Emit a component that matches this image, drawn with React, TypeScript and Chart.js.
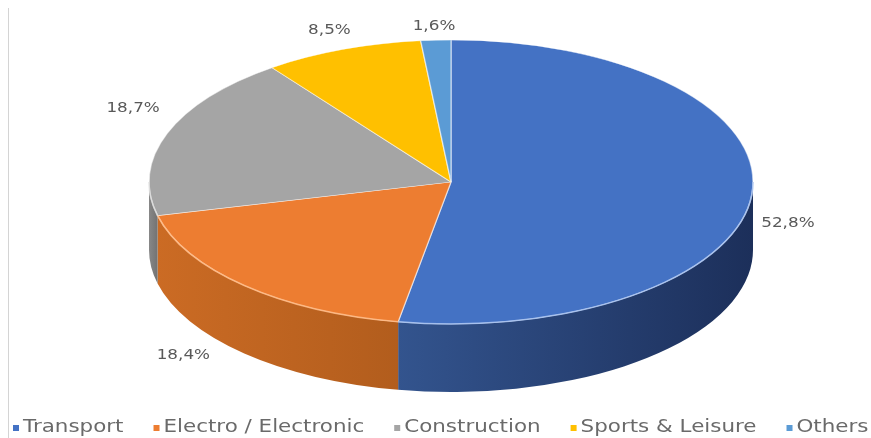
import React, { useEffect, useRef } from "react";
import { Chart, registerables } from "chart.js";

Chart.register(...registerables);

const categories = ["Transport", "Electro / Electronic", "Construction", "Sports & Leisure", "Others"];
const shares = [52.8, 18.4, 18.7, 8.5, 1.6];
const valueLabels = ["52,8%", "18,4%", "18,7%", "8,5%", "1,6%"];
const topColors = ["#4472C4", "#ED7D31", "#A5A5A5", "#FFC000", "#5B9BD5"];
const wallLight = ["#33548e", "#cb6b24", "#8a8a8a", "#c99a10", "#4a7fb0"];
const wallDark = ["#1c2f5a", "#b25d1d", "#707070", "#b08600", "#3a6a98"];
const rimColors = ["rgba(170,195,240,0.9)", "rgba(255,185,130,0.85)", "rgba(220,220,220,0.8)", "rgba(255,225,140,0.8)", "rgba(170,205,240,0.8)"];

// geometry of the projected pie
const CX = 451;
const CY = 182;
const RX = 302;
const RY = 142;
const DEPTH = 68;

function drawStretchedText(ctx: CanvasRenderingContext2D, text: string, x: number, y: number, align: string, font: string, color: string, stretch: number) {
  ctx.save();
  ctx.font = font;
  ctx.fillStyle = color;
  ctx.textBaseline = "middle";
  ctx.textAlign = "left";
  const w = ctx.measureText(text).width * stretch;
  const left = align === "left" ? x : align === "right" ? x - w : x - w / 2;
  ctx.translate(left, y);
  ctx.scale(stretch, 1);
  ctx.fillText(text, 0, 0);
  ctx.restore();
  return w;
}

function frontIntervals(s: number, e: number) {
  const out: [number, number][] = [];
  for (let k = -1; k <= 1; k++) {
    const lo = Math.max(s, 2 * Math.PI * k);
    const hi = Math.min(e, 2 * Math.PI * k + Math.PI);
    if (hi > lo) out.push([lo, hi]);
  }
  return out;
}

const pie3d = {
  id: "pie3d",
  beforeDatasetsDraw(chart: any) {
    const ctx: CanvasRenderingContext2D = chart.ctx;
    const arcs = chart.getDatasetMeta(0).data;
    // side walls
    arcs.forEach((arc: any, i: number) => {
      const p = arc.getProps(["startAngle", "endAngle"], true);
      frontIntervals(p.startAngle, p.endAngle).forEach(([lo, hi]) => {
        const xl = CX + RX * Math.cos(hi);
        const xr = CX + RX * Math.cos(lo);
        const g = ctx.createLinearGradient(Math.min(xl, xr) - 1, 0, Math.max(xl, xr) + 1, 0);
        g.addColorStop(0, wallLight[i]);
        g.addColorStop(1, wallDark[i]);
        ctx.save();
        ctx.beginPath();
        ctx.ellipse(CX, CY, RX, RY, 0, lo, hi, false);
        ctx.ellipse(CX, CY + DEPTH, RX, RY, 0, hi, lo, true);
        ctx.closePath();
        ctx.fillStyle = g;
        ctx.fill();
        ctx.restore();
      });
    });
    const p0 = arcs[0].getProps(["x", "y", "outerRadius"], true);
    ctx.save();
    ctx.translate(CX, CY);
    ctx.scale(RX / p0.outerRadius, RY / p0.outerRadius);
    ctx.translate(-p0.x, -p0.y);
  },
  afterDatasetsDraw(chart: any) {
    const ctx: CanvasRenderingContext2D = chart.ctx;
    ctx.restore();
    const arcs = chart.getDatasetMeta(0).data;
    // rim highlight along the front top edge
    arcs.forEach((arc: any, i: number) => {
      const p = arc.getProps(["startAngle", "endAngle"], true);
      frontIntervals(p.startAngle, p.endAngle).forEach(([lo, hi]) => {
        ctx.save();
        ctx.beginPath();
        ctx.ellipse(CX, CY, RX, RY, 0, lo, hi, false);
        ctx.strokeStyle = rimColors[i];
        ctx.lineWidth = 1.5;
        ctx.stroke();
        ctx.restore();
      });
    });
    // value labels
    arcs.forEach((arc: any, i: number) => {
      const p = arc.getProps(["startAngle", "endAngle"], true);
      const mid = (p.startAngle + p.endAngle) / 2;
      const c = Math.cos(mid);
      const s = Math.sin(mid);
      const kx = 1.12 + 0.35 * Math.max(0, s) * Math.max(0, -c);
      const ky = s < 0 ? 1.1 + 0.65 * (1 - Math.abs(s)) : 1.2;
      const x = CX + kx * RX * c;
      const y = CY + ky * RY * s + DEPTH * Math.max(0, s) + (c > 0.5 ? 20 : 0);
      drawStretchedText(ctx, valueLabels[i], x, y, "center", "14px 'DejaVu Sans'", "#595959", 1.2);
    });
  },
  afterDraw(chart: any) {
    const ctx: CanvasRenderingContext2D = chart.ctx;
    // left frame line
    ctx.save();
    ctx.strokeStyle = "#d4d4d4";
    ctx.lineWidth = 1;
    ctx.beginPath();
    ctx.moveTo(8.5, 8);
    ctx.lineTo(8.5, 438);
    ctx.stroke();
    ctx.restore();
    // legend
    let x = 13;
    const y = 428;
    categories.forEach((name, i) => {
      ctx.fillStyle = topColors[i];
      ctx.fillRect(x, y - 3, 6, 6);
      x += 10;
      const w = drawStretchedText(ctx, name, x, y, "left", "17px 'DejaVu Sans'", "#6a6a6a", 1.26);
      x += w + 30;
    });
  },
};

export default function App() {
  const ref = useRef<HTMLCanvasElement | null>(null);
  useEffect(() => {
    if (!ref.current) return;
    const chart = new Chart(ref.current, {
      type: "pie",
      data: {
        labels: categories,
        datasets: [
          {
            data: shares,
            backgroundColor: topColors,
            borderColor: "rgba(255,255,255,0.55)",
            borderWidth: 1,
            clip: false,
          } as any,
        ],
      },
      options: {
        animation: false,
        responsive: false,
        maintainAspectRatio: false,
        devicePixelRatio: 1,
        events: [],
        layout: { padding: 0 },
        plugins: {
          legend: { display: false },
          tooltip: { enabled: false },
        },
      },
      plugins: [pie3d],
    });
    return () => chart.destroy();
  }, []);
  return (
    <div style={{ position: "absolute", left: 0, top: 0, width: 871, height: 438, background: "#fff" }}>
      <canvas ref={ref} width={871} height={438} style={{ display: "block" }} />
    </div>
  );
}
